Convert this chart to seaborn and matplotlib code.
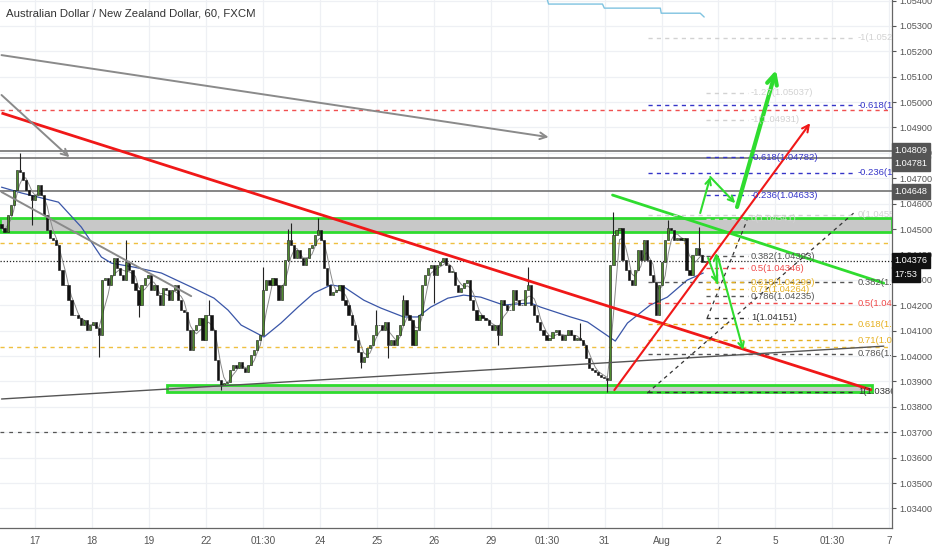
import matplotlib
matplotlib.use("Agg")
import matplotlib.pyplot as plt
import matplotlib.transforms as mtransforms
from matplotlib.patches import Rectangle
from matplotlib.ticker import FormatStrFormatter
import numpy as np
import pandas as pd
import seaborn as sns

TITLE = "Australian Dollar / New Zealand Dollar, 60, FXCM"

# ---------------- data ----------------
first_open = 1.04520
closes_part1 = [1.04504, 1.04488, 1.04555, 1.04595, 1.04654, 1.04733, 1.04725, 1.04693, 1.04654, 1.04634,
                1.04614, 1.04634, 1.04674, 1.04634, 1.04555, 1.04496, 1.04465, 1.04457, 1.04437, 1.04339,
                1.04279, 1.04279, 1.04220, 1.04161, 1.04161, 1.04149, 1.04122, 1.04142, 1.04102, 1.04122,
                1.04134, 1.04110, 1.04082, 1.04299, 1.04307, 1.04279, 1.04319, 1.04386, 1.04346, 1.04319,
                1.04299, 1.04370, 1.04339, 1.04287, 1.04260, 1.04201, 1.04279, 1.04307, 1.04319, 1.04260,
                1.04279, 1.04240, 1.04201, 1.04268, 1.04260, 1.04220, 1.04260, 1.04279, 1.04220, 1.04181,
                1.04173, 1.04102, 1.04024, 1.04102, 1.04122, 1.04149, 1.04063, 1.04161, 1.04161, 1.04102,
                1.03984, 1.03906, 1.03886, 1.03894, 1.03898]
closes_part2 = [1.03945, 1.03965, 1.03953, 1.03976, 1.03953, 1.03937, 1.03965, 1.04004, 1.04024, 1.04063,
                1.04082, 1.04260, 1.04299, 1.04279, 1.04307, 1.04279, 1.04220, 1.04279, 1.04378, 1.04457,
                1.04437, 1.04386, 1.04417, 1.04386, 1.04358, 1.04386, 1.04425, 1.04437, 1.04477, 1.04496,
                1.04457, 1.04346, 1.04279, 1.04240, 1.04252, 1.04260, 1.04279, 1.04220, 1.04201, 1.04161,
                1.04122, 1.04063, 1.04016, 1.03976, 1.03996, 1.04031, 1.04043, 1.04082, 1.04122, 1.04122,
                1.04102, 1.04134, 1.04043, 1.04063, 1.04043, 1.04082, 1.04122, 1.04220, 1.04161, 1.04142,
                1.04043, 1.04102, 1.04161, 1.04279, 1.04319, 1.04346, 1.04358, 1.04319, 1.04358, 1.04370,
                1.04386, 1.04358, 1.04331, 1.04331, 1.04279, 1.04252, 1.04268, 1.04287, 1.04299]
closes_part3 = [1.04220, 1.04181, 1.04142, 1.04161, 1.04149, 1.04142, 1.04122, 1.04102, 1.04122, 1.04082,
                1.04220, 1.04201, 1.04181, 1.04181, 1.04260, 1.04220, 1.04201, 1.04201, 1.04260, 1.04279,
                1.04201, 1.04161, 1.04134, 1.04102, 1.04082, 1.04063, 1.04071, 1.04094, 1.04102, 1.04082,
                1.04063, 1.04082, 1.04102, 1.04082, 1.04063, 1.04071, 1.04063, 1.04043, 1.03992, 1.03953,
                1.03945, 1.03937, 1.03925, 1.03917, 1.03913, 1.03906, 1.04358, 1.04477, 1.04496, 1.04504,
                1.04378, 1.04339, 1.04299, 1.04279, 1.04339, 1.04417, 1.04378, 1.04457, 1.04378, 1.04319,
                1.04291, 1.04161, 1.04279, 1.04370, 1.04457, 1.04504, 1.04496, 1.04457, 1.04465, 1.04457,
                1.04465, 1.04339, 1.04319, 1.04398, 1.04425, 1.04398, 1.04370, 1.04376]

wick_bar = [6, 10, 32, 41, 45, 68, 72, 86, 94, 95, 104, 118, 123, 127, 132, 142,
            163, 173, 190, 199, 201, 219, 229]
wick_price = [1.04800, 1.04516, 1.03996, 1.04457, 1.04153, 1.04220, 1.03866, 1.04350, 1.04500,
              1.04524, 1.04543, 1.03953, 1.04181, 1.03992, 1.04240, 1.04209,
              1.04043, 1.04350, 1.04130, 1.03858, 1.04567, 1.04535, 1.04508]

day_labels = ["17", "18", "19", "22", "01:30", "24", "25", "26", "29", "01:30",
              "31", "Aug", "2", "5", "01:30", "7"]
bars_per_day = 18.7
first_day_bar = 11.1

ma_bar = [0, 6.6, 18.7, 26.2, 32.8, 36.1, 43.6, 52.5, 62.3, 69.8, 74.4, 78.7, 86.2, 91.8, 97.4,
          102.6, 108.2, 112.5, 119.0, 124.6, 132.1, 136.7, 141.0, 146.6, 151.8, 157.4, 164.9,
          173.8, 177.0, 186.9, 192.5, 201.6, 205.6, 213.1, 218.7, 225.2, 230.5]
ma_price = [1.04665, 1.04642, 1.04606, 1.04508, 1.04390, 1.04366, 1.04350, 1.04327, 1.04272,
            1.04228, 1.04181, 1.04122, 1.04075, 1.04130, 1.04193, 1.04248, 1.04280, 1.04272,
            1.04220, 1.04189, 1.04154, 1.04154, 1.04193, 1.04228, 1.04240, 1.04232, 1.04201,
            1.04209, 1.04193, 1.04154, 1.04134, 1.04059, 1.04130, 1.04201, 1.04232, 1.04299, 1.04327]

blue_step_bar = [179.3, 179.7, 197.4, 198.0, 216.4, 216.7, 229.5, 230.8]
blue_step_price = [1.05402, 1.05386, 1.05386, 1.05370, 1.05370, 1.05350, 1.05350, 1.05335]

solid_levels = [1.04809, 1.04781, 1.04648]
red_dash_level = 1.04969
yellow_dash_levels = [1.04445, 1.04035]
last_price = 1.04376
gray_dash_level = 1.03700

upper_zone = (1.04488, 1.04543)
lower_zone = (1.03858, 1.03886)
lower_zone_bars = (54.4, 285.9)

# trend lines: (bar0, price0, bar1, price1)
red_down = (0, 1.04957, 285.9, 1.03866)
gray_bottom = (0, 1.03831, 289.8, 1.04039)
gray_mid = (0, 1.04646, 62.3, 1.04236)
green_down = (200.7, 1.04634, 289.8, 1.04287)
dash_diag = [(212.1, 1.03854, 280.3, 1.04567), (231.8, 1.04150, 244.9, 1.04535)]
# arrows: (bar0, price0, bar1, price1)
gray_arrows = [(0, 1.05185, 179.7, 1.04862), (0, 1.05028, 22.3, 1.04783)]
red_arrow = (201.3, 1.03866, 265.6, 1.04917)
green_arrows = [(229.5, 1.04563, 232.8, 1.04705), (232.8, 1.04705, 241.0, 1.04602),
                (232.1, 1.04386, 235.1, 1.04287), (235.1, 1.04287, 234.8, 1.04406),
                (235.4, 1.04386, 243.6, 1.04024)]
green_big_arrow = (241.6, 1.04587, 254.4, 1.05126)

left_fib_levels = ["-1.27", "-1", "-0.618", "-0.236", "0", "0.382", "0.5", "0.618", "0.71", "0.786", "1"]
left_fib_prices = [1.05037, 1.04931, 1.04782, 1.04633, 1.04541, 1.04393, 1.04346, 1.04290, 1.04264, 1.04235, 1.04151]
left_fib_span = (231.5, 245.2)
right_fib_levels = ["-1", "-0.618", "-0.236", "0", "0.382", "0.5", "0.618", "0.71", "0.786", "1"]
right_fib_prices = [1.05254, 1.04988, 1.04721, 1.04557, 1.04291, 1.04208, 1.04126, 1.04062, 1.04009, 1.03860]
right_fib_span = (212.4, 280.3)

axis_boxes = [("1.04809", 1.04809, "#555555"), ("1.04781", 1.04759, "#555555"),
              ("1.04648", 1.04648, "#555555"), ("1.04376", 1.04376, "#111111"),
              ("17:53", 1.04322, "#111111")]

# ---------------- styling ----------------
sns.set_style("white")
plt.rcParams['font.family'] = ['Liberation Sans', 'DejaVu Sans']

GREEN = "#2fdc2f"
RED = "#f01818"
fib_colors = {"-1.27": "#d2d2d2", "-1": "#d2d2d2", "0": "#d2d2d2", "-0.618": "#3535c8",
              "-0.236": "#3535c8", "0.382": "#555555", "0.5": "#f04a4a", "0.618": "#e6b020",
              "0.71": "#e6b020", "0.786": "#555555", "1": "#333333"}

fig = plt.figure(figsize=(9.32, 5.5), dpi=100)
ax = fig.add_axes([0, 22 / 550, 892 / 932, 528 / 550])
ax.set_facecolor("white")

closes = np.array(closes_part1 + closes_part2 + closes_part3)
n = len(closes)
xb = np.arange(n)
opens = np.r_[first_open, closes[:-1]]

ax.set_xlim(-0.5, 292.5)
ax.set_ylim(1.03323, 1.05402)

# grid
day_pos = [first_day_bar + bars_per_day * k for k in range(len(day_labels))]
for p in day_pos:
    ax.axvline(p, color="#eef0f4", lw=0.9, zorder=0)
for yv in np.arange(1.034, 1.0541, 0.001):
    ax.axhline(yv, color="#eef0f4", lw=0.9, zorder=0)

# zones
ax.axhspan(upper_zone[0], upper_zone[1], facecolor="#c8c8c8", edgecolor=GREEN, lw=2, zorder=1)
ax.add_patch(Rectangle((lower_zone_bars[0], lower_zone[0]), lower_zone_bars[1] - lower_zone_bars[0],
                       lower_zone[1] - lower_zone[0], facecolor="#c8c8c8", edgecolor=GREEN, lw=2, zorder=1))

# horizontal lines
for lv in solid_levels:
    ax.axhline(lv, color="#666666", lw=1.1, zorder=2)
ax.axhline(red_dash_level, color="#f05050", lw=1, ls=(0, (3, 3)), zorder=2)
for lv in yellow_dash_levels:
    ax.axhline(lv, color="#efc040", lw=1, ls=(0, (3, 3)), zorder=2)
ax.axhline(last_price, color="#222222", lw=0.9, ls=(0, (1, 1.5)), zorder=2)
ax.axhline(gray_dash_level, color="#555555", lw=0.9, ls=(0, (3, 4)), zorder=2)

# light blue step line
sns.lineplot(x=blue_step_bar, y=blue_step_price, ax=ax, color="#7fc3e0", lw=1, sort=False,
             estimator=None, zorder=2)

# moving averages
sns.lineplot(x=ma_bar, y=ma_price, ax=ax, color="#3a56a8", lw=0.9, sort=False, estimator=None, zorder=3)
fast = pd.Series(closes).rolling(4, min_periods=1).mean()
sns.lineplot(x=xb, y=fast.values, ax=ax, color="#8a8a8a", lw=0.7, estimator=None, zorder=3)

# candles
up = closes >= opens
h = closes - opens
h = np.where(np.abs(h) < 2e-5, np.where(up, 2e-5, -2e-5), h)
ax.bar(xb[up], h[up], bottom=opens[up], width=0.72, color="#4f8c2f", edgecolor="#111111", linewidth=0.4, zorder=4)
ax.bar(xb[~up], h[~up], bottom=opens[~up], width=0.72, color="#111111", edgecolor="#111111", linewidth=0.4, zorder=4)
for i, wp in zip(wick_bar, wick_price):
    top = max(opens[i], closes[i]); bot = min(opens[i], closes[i])
    if wp > top:
        ax.vlines(i, top, wp, color="#222222", lw=0.8, zorder=4)
    else:
        ax.vlines(i, wp, bot, color="#222222", lw=0.8, zorder=4)

# trend lines
def seg(s, **kw):
    ax.plot([s[0], s[2]], [s[1], s[3]], **kw)

seg(red_down, color=RED, lw=2, zorder=5, solid_capstyle="butt")
seg(gray_bottom, color="#555555", lw=1, zorder=5)
seg(gray_mid, color="#8a8a8a", lw=1.4, zorder=5)
seg(green_down, color=GREEN, lw=2, zorder=5)
for d in dash_diag:
    seg(d, color="#333333", lw=0.9, ls=(0, (3, 3)), zorder=5)

def arrow(s, color, lw, ms=12):
    ax.annotate("", xy=(s[2], s[3]), xytext=(s[0], s[1]),
                arrowprops=dict(arrowstyle="->", color=color, lw=lw, mutation_scale=ms,
                                shrinkA=0, shrinkB=0), zorder=6)

for a in gray_arrows:
    arrow(a, "#8a8a8a", 1.4)
arrow(red_arrow, RED, 1.5)
for a in green_arrows:
    arrow(a, GREEN, 1.5, ms=10)
arrow(green_big_arrow, GREEN, 3, ms=18)

# fib levels
def fib(levels, prices, span):
    for lv, pr in zip(levels, prices):
        c = fib_colors[lv]
        ax.hlines(pr, span[0], span[1], colors=c, lw=1, linestyles=(0, (3, 3)), zorder=5)
        ax.text(span[1] + 1.0, pr, f"{lv}({pr:.5f})", color=c, fontsize=6.8, va="center",
                ha="left", clip_on=True, zorder=6)

fib(right_fib_levels, right_fib_prices, right_fib_span)
fib(left_fib_levels, left_fib_prices, left_fib_span)

# axes formatting
ax.yaxis.tick_right()
ax.set_yticks(np.arange(1.034, 1.0541, 0.001))
ax.yaxis.set_major_formatter(FormatStrFormatter("%.5f"))
ax.set_xticks(day_pos)
ax.set_xticklabels(day_labels)
ax.tick_params(axis="y", labelsize=6.6, colors="#555555", length=3, width=0.8, pad=2)
ax.tick_params(axis="x", labelsize=7.2, colors="#555555", length=3, width=0.8, pad=3)
for s in ["left", "top"]:
    ax.spines[s].set_visible(False)
for s in ["right", "bottom"]:
    ax.spines[s].set_color("#666666")
    ax.spines[s].set_linewidth(0.9)

# title
ax.text(0.007, 0.975, TITLE, transform=ax.transAxes, fontsize=8.2, color="#333333",
        va="center", ha="left", zorder=7)

# axis price boxes
trans = mtransforms.blended_transform_factory(ax.transAxes, ax.transData)
for txt, yv, bg in axis_boxes:
    ax.text(1.003, yv, txt, transform=trans, fontsize=6.6, color="white", va="center", ha="left",
            clip_on=False, zorder=10,
            bbox=dict(boxstyle="square,pad=0.3", facecolor=bg, edgecolor=bg))

fig.savefig("out.png", dpi=100)
